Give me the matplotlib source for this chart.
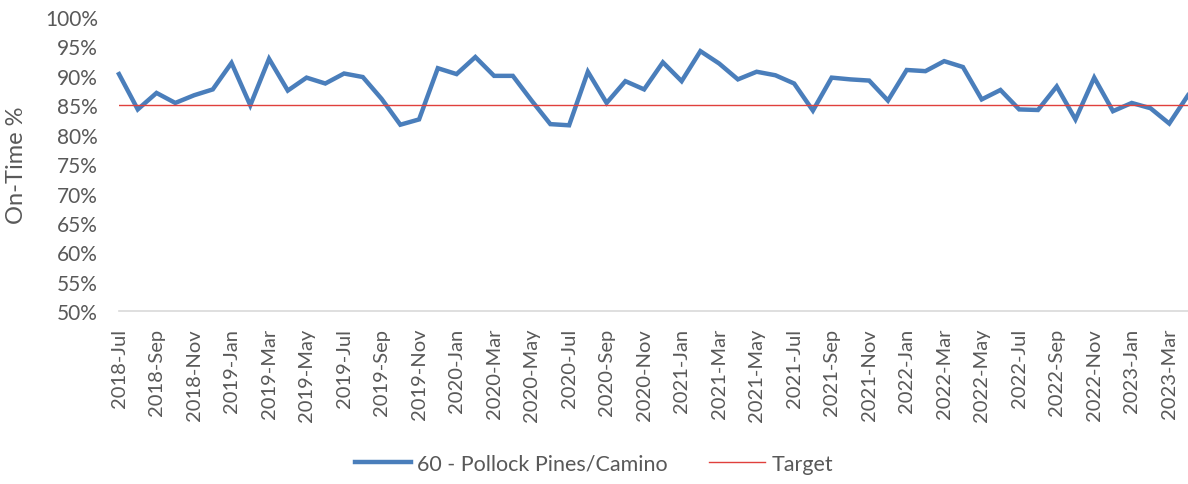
import matplotlib
matplotlib.use('Agg')
import matplotlib.pyplot as plt
import numpy as np

# monthly on-time %, 2018-Jul .. 2023-Apr
months = []
for y in range(2018, 2024):
    for m in ['Jan', 'Feb', 'Mar', 'Apr', 'May', 'Jun', 'Jul', 'Aug', 'Sep', 'Oct', 'Nov', 'Dec']:
        months.append(f'{y}-{m}')
months = months[months.index('2018-Jul'):months.index('2023-Apr') + 1]

on_time = [90.3, 84.3, 87.1, 85.4, 86.7, 87.7,
           92.2, 85.0, 92.9, 87.5, 89.7, 88.7, 90.4, 89.8, 86.1, 81.7, 82.6, 91.3,
           90.3, 93.2, 90.0, 90.0, 85.8, 81.8, 81.6, 90.7, 85.4, 89.1, 87.7, 92.3,
           89.1, 94.2, 92.1, 89.4, 90.7, 90.1, 88.7, 84.1, 89.7, 89.4, 89.2, 85.8,
           91.0, 90.8, 92.5, 91.5, 86.0, 87.6, 84.3, 84.2, 88.2, 82.6, 89.7, 84.0,
           85.4, 84.5, 81.9, 86.7]
target = [85.0] * len(months)

series_name = '60 - Pollock Pines/Camino'
GRAY = '#595959'

plt.rcParams['font.family'] = ['Lato', 'DejaVu Sans']

fig = plt.figure(figsize=(11.88, 4.85), dpi=100)
ax = fig.add_axes([119 / 1188, 1 - 312.3 / 485, 1 - 119 / 1188, (312.3 - 18) / 485])

x = np.arange(len(months))
ax.plot(x, on_time, color='#4a7ebb', lw=3.2, solid_joinstyle='miter', label=series_name, clip_on=False)
ax.plot(x, target, color='#e0403c', lw=1.0, label='Target')

ax.set_xlim(0, len(months) - 1)
ax.set_ylim(50, 100)
yt = np.arange(50, 101, 5)
ax.set_yticks(yt)
ax.set_yticklabels([f'{v}%' for v in yt], fontsize=15, color=GRAY)
ax.set_xticks(x[::2])
ax.set_xticklabels(months[::2], rotation=90, fontsize=14.5, color=GRAY)
ax.tick_params(length=0)
ax.tick_params(axis='x', pad=12)
ax.tick_params(axis='y', pad=15)

for s in ['top', 'right', 'left']:
    ax.spines[s].set_visible(False)
ax.spines['bottom'].set_color('#d9d9d9')
ax.spines['bottom'].set_linewidth(1.2)

ax.set_ylabel('On-Time %', fontsize=17, color=GRAY)
ax.yaxis.set_label_coords(-92 / 1069, 0.5)

fig.legend(loc='center', bbox_to_anchor=(0.5, 1 - 465 / 485), ncol=2, frameon=False,
           fontsize=15.5, labelcolor=GRAY, handlelength=2.6, handletextpad=0.3,
           columnspacing=1.9)

fig.savefig('out.png', dpi=100, facecolor='white')
